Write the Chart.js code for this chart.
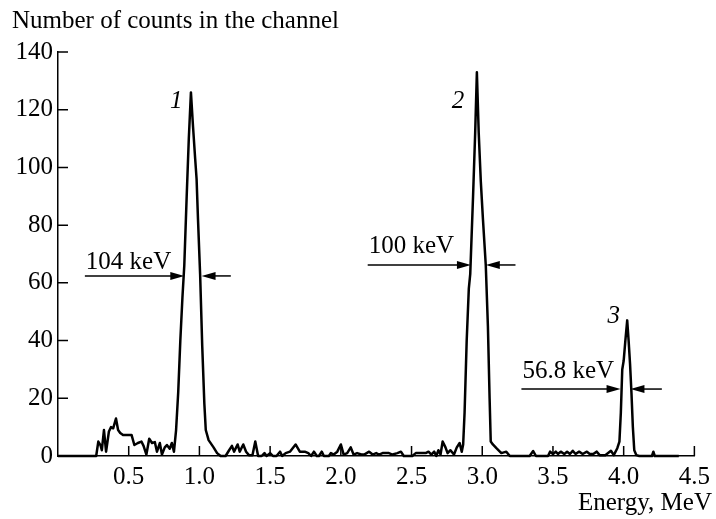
<!DOCTYPE html>
<html>
<head>
<meta charset="utf-8">
<script src="https://cdn.jsdelivr.net/npm/chart.js@4.4.1/dist/chart.umd.min.js"></script>
<style>
  html, body { margin: 0; padding: 0; background: #fff; }
  canvas { display: block; }
</style>
</head>
<body>
<canvas id="spectrum" width="716" height="519"></canvas>
<script>
// Energy spectrum
const energy = [
  0, 0.27, 0.285, 0.30, 0.31, 0.325, 0.34, 0.36, 0.375, 0.39, 0.41, 0.425, 0.44, 0.46, 0.52,
  0.54, 0.565, 0.59, 0.605, 0.625, 0.645, 0.665, 0.685, 0.70, 0.72, 0.735, 0.755, 0.77, 0.79,
  0.805, 0.82,
  0.835, 0.85, 0.865, 0.88, 0.893, 0.91, 0.925, 0.94, 0.955, 0.97, 0.98, 0.99, 1.005, 1.02,
  1.035, 1.045, 1.065, 1.10, 1.125, 1.15, 1.185, 1.21, 1.23, 1.245, 1.27, 1.285, 1.31, 1.33,
  1.35, 1.375, 1.395, 1.415, 1.44, 1.46, 1.475, 1.50, 1.52, 1.545, 1.57, 1.585, 1.61, 1.64,
  1.68, 1.71, 1.745, 1.77, 1.79, 1.81, 1.83, 1.845, 1.865, 1.88, 1.915, 1.93, 1.95, 1.975,
  2.0, 2.02, 2.045, 2.07, 2.09, 2.115, 2.145, 2.165, 2.20, 2.225, 2.25, 2.27, 2.295, 2.34,
  2.365, 2.40, 2.425, 2.445, 2.505, 2.53, 2.60, 2.62, 2.64, 2.66, 2.675, 2.69, 2.705, 2.72,
  2.74, 2.755, 2.775, 2.80, 2.82, 2.84, 2.855,
  2.865, 2.875, 2.89, 2.905, 2.915, 2.935, 2.95, 2.962, 2.975, 2.99, 3.005, 3.025, 3.04, 3.052,
  3.06, 3.075, 3.10, 3.135, 3.17, 3.195, 3.335, 3.36, 3.38, 3.465, 3.48, 3.50, 3.52, 3.535,
  3.555, 3.58, 3.60, 3.62, 3.64, 3.66, 3.685, 3.71, 3.74, 3.76, 3.785, 3.81, 3.83, 3.87, 3.91,
  3.93, 3.955, 3.97,
  3.98, 3.99, 4.0, 4.012, 4.025, 4.035, 4.045, 4.055, 4.065, 4.075, 4.09, 4.11, 4.2, 4.21,
  4.22, 4.39
];
const counts = [
  0, 0, 5, 3.8, 2, 9, 1.5, 8.5, 10, 9.6, 13, 9, 8, 7.3, 7.3,
  3.8, 4.5, 5, 3.5, 0.5, 6, 4.5, 4.8, 1.5, 4.5, 0.5, 3, 3.8, 2.5,
  4.5, 1.5,
  9, 22, 40, 55, 66, 90, 110, 126, 114, 103, 96, 82, 63, 38,
  18, 9, 5.5, 3, 1, 0, 0, 2, 3.5, 1.5, 4, 1.5, 4, 1.5,
  0.3, 0.3, 5, 0, 0, 1, 0, 1, 0, 0, 1.5, 0, 1, 1.5,
  4, 1.5, 1.5, 1, 0, 1.5, 0, 0, 1.5, 0, 0, 1, 0.5, 1.5,
  4, 0.5, 1, 3, 0.5, 1, 0.5, 0.5, 1.5, 0.5, 1, 0.5, 1, 1,
  0.5, 1, 1.5, 0, 0, 1, 1, 1.5, 0.5, 1.5, 0, 2, 0.5, 5,
  3, 1, 2, 0.5, 3, 4.5, 1.5,
  4, 15, 40, 58, 63, 90, 112, 133, 112, 95, 82, 66, 45, 20,
  5, 4, 2.7, 1, 1.5, 0, 0, 1.7, 0, 0, 1.5, 0.7, 1.5, 0.7,
  1.5, 0.7, 1.5, 0.7, 1.8, 0.7, 1.5, 0.7, 1.5, 0.7, 0.7, 1.5, 0.3, 0.3, 1.8,
  0.3, 2.7, 5,
  15, 30, 33, 40, 47, 40, 32, 22, 10, 2, 0.3, 0, 0, 1.5,
  0, 0
];

const xTicks = [0.5, 1.0, 1.5, 2.0, 2.5, 3.0, 3.5, 4.0, 4.5];
const yTicks = [0, 20, 40, 60, 80, 100, 120, 140];

// peak numbers and FWHM markers (data units)
const peakLabels = [
  { text: '1', x: 0.837, y: 120.6 },
  { text: '2', x: 2.828, y: 120.6 },
  { text: '3', x: 3.929, y: 46.1 }
];
const widthMarks = [
  { text: '104 keV', y: 62.4, textY: 64.8, from: 0.19, left: 0.893, right: 1.015, to: 1.222 },
  { text: '100 keV', y: 66.2, textY: 70.3, from: 2.19, left: 2.92, right: 3.025, to: 3.235 },
  { text: '56.8 keV', y: 23.2, textY: 27.0, from: 3.277, left: 3.978, right: 4.048, to: 4.27 }
];

Chart.defaults.font.family = 'Liberation Serif';
Chart.defaults.font.size = 25;
Chart.defaults.color = '#000';

function arrow(ctx, x0, x1, y) {
  // line from x0 to tip at x1
  const dir = Math.sign(x1 - x0);
  ctx.beginPath();
  ctx.moveTo(x0, y);
  ctx.lineTo(x1 - dir * 12, y);
  ctx.stroke();
  ctx.beginPath();
  ctx.moveTo(x1, y);
  ctx.lineTo(x1 - dir * 14, y - 4);
  ctx.lineTo(x1 - dir * 14, y + 4);
  ctx.closePath();
  ctx.fill();
}

const decor = {
  id: 'decor',
  afterDraw(chart) {
    const ctx = chart.ctx;
    const xs = chart.scales.x, ys = chart.scales.y;
    ctx.save();
    ctx.strokeStyle = '#000';
    ctx.fillStyle = '#000';
    ctx.lineWidth = 1.5;

    // inward tick marks
    ctx.beginPath();
    yTicks.forEach(v => {
      if (v === 0) return;
      const py = ys.getPixelForValue(v);
      ctx.moveTo(xs.left, py);
      ctx.lineTo(xs.left + 10, py);
    });
    xTicks.forEach(v => {
      const px = xs.getPixelForValue(v);
      ctx.moveTo(px, ys.bottom);
      ctx.lineTo(px, ys.bottom - 10);
    });
    ctx.stroke();

    // axis titles
    ctx.font = '25px "Liberation Serif"';
    ctx.textBaseline = 'alphabetic';
    ctx.textAlign = 'left';
    ctx.fillText('Number of counts in the channel', 12, 28);
    ctx.textAlign = 'right';
    ctx.fillText('Energy, MeV', 712, 510);

    // FWHM arrows
    widthMarks.forEach(m => {
      const py = ys.getPixelForValue(m.y);
      arrow(ctx, xs.getPixelForValue(m.from), xs.getPixelForValue(m.left), py);
      arrow(ctx, xs.getPixelForValue(m.to), xs.getPixelForValue(m.right), py);
      ctx.textAlign = 'left';
      ctx.fillText(m.text, xs.getPixelForValue(m.from) + 1, ys.getPixelForValue(m.textY));
    });

    // peak numbers
    ctx.font = 'italic 25px "Liberation Serif"';
    ctx.textAlign = 'center';
    peakLabels.forEach(p => {
      ctx.fillText(p.text, xs.getPixelForValue(p.x), ys.getPixelForValue(p.y));
    });
    ctx.restore();
  }
};

new Chart(document.getElementById('spectrum'), {
  type: 'line',
  data: {
    datasets: [{
      data: energy.map((e, i) => ({ x: e, y: counts[i] })),
      borderColor: '#000',
      borderWidth: 2.5,
      borderJoinStyle: 'round',
      pointRadius: 0,
      tension: 0,
      fill: false,
      clip: false
    }]
  },
  options: {
    responsive: false,
    animation: false,
    devicePixelRatio: 1,
    layout: { padding: { left: 0, top: 52, right: 17, bottom: 0 } },
    plugins: { legend: { display: false }, tooltip: { enabled: false } },
    scales: {
      x: {
        type: 'linear',
        min: 0, max: 4.5,
        grid: { display: false, drawTicks: false },
        border: { display: true, color: '#000', width: 1.5 },
        afterBuildTicks: s => { s.ticks = xTicks.map(v => ({ value: v })); },
        afterFit: s => { s.height = 63; },
        ticks: { padding: 6, maxRotation: 0, autoSkip: false, callback: v => v.toFixed(1) }
      },
      y: {
        min: 0, max: 140,
        grid: { display: false, drawTicks: false },
        border: { display: true, color: '#000', width: 1.5 },
        afterBuildTicks: s => { s.ticks = yTicks.map(v => ({ value: v })); },
        afterFit: s => { s.width = 58; },
        ticks: { padding: 5, autoSkip: false, callback: v => String(v) }
      }
    }
  },
  plugins: [decor]
});
</script>
</body>
</html>
